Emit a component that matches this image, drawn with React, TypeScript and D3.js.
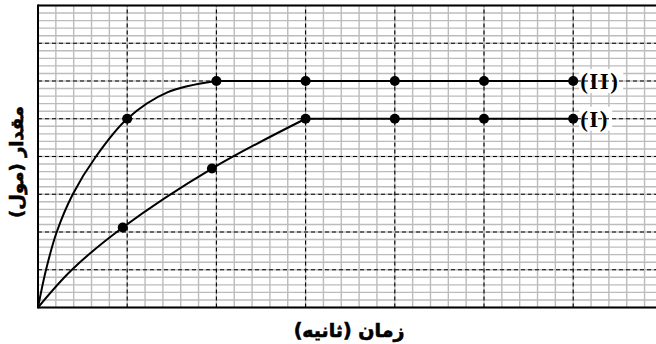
import * as d3 from "d3";

// time axis: 7 major steps, 5 minor per step; amount axis: 8 major steps, 5 minor per step
const xMajor = [0, 1, 2, 3, 4, 5, 6, 7];
const yMajor = [0, 1, 2, 3, 4, 5, 6, 7, 8];
const minorPerMajor = 5;

const riseI: [number, number][] = [
  [0, 0], [0.38, 1], [0.95, 2.12], [1.95, 3.68], [3, 5],
];
const plateauI: [number, number][] = [[3, 5], [4, 5], [5, 5], [6, 5]];
const dotsI: [number, number][] = [[0.95, 2.12], [1.95, 3.68], [3, 5], [4, 5], [5, 5], [6, 5]];

// curve (II)
const riseII: [number, number][] = [
  [0, 0], [0.09, 1], [0.21, 2], [0.39, 3], [0.65, 4], [1, 5], [1.45, 5.7], [2, 6],
];
const plateauII: [number, number][] = [[2, 6], [3, 6], [4, 6], [5, 6], [6, 6]];
const dotsII: [number, number][] = [[1, 5], [2, 6], [3, 6], [4, 6], [5, 6], [6, 6]];

const labels = [
  { text: "(II)", at: [6, 6] as [number, number] },
  { text: "(I)", at: [6, 5] as [number, number] },
];

const xTitle = "زمان (ثانیه)";
const yTitle = "مقدار (مول)";

export default function App() {
  const W = 656;
  const H = 344;
  const left = 38;
  const top = 5.5;
  const bottom = 307.5;
  const xStep = 89.2;

  const x = d3.scaleLinear().domain([0, 7]).range([left, left + 7 * xStep]);
  const y = d3.scaleLinear().domain([0, 8]).range([bottom, top]);

  const minorX = d3.range(0, 7 * minorPerMajor + 1).map((i) => i / minorPerMajor);
  const minorY = d3.range(0, 8 * minorPerMajor + 1).map((i) => i / minorPerMajor);

  const curve = d3
    .line<[number, number]>()
    .x((d) => x(d[0]))
    .y((d) => y(d[1]))
    .curve(d3.curveCatmullRom.alpha(0.5));
  const straight = d3.line<[number, number]>().x((d) => x(d[0])).y((d) => y(d[1]));

  const x0 = x(0), x1 = x(7), y0 = y(0), y1 = y(8);

  return (
    <svg width={W} height={H} style={{ position: "absolute", left: 0, top: 0, background: "#fff" }}>
      {/* minor grid */}
      <g stroke="#bcbcbc" strokeWidth={1.4}>
        {minorX.map((v) => (
          <line key={`mx${v}`} x1={x(v)} x2={x(v)} y1={y0} y2={y1} />
        ))}
        {minorY.map((v) => (
          <line key={`my${v}`} x1={x0} x2={x1} y1={y(v)} y2={y(v)} />
        ))}
      </g>

      {/* white boxes behind the curve labels */}
      {labels.map((l) => (
        <rect key={`bg${l.text}`} x={x(l.at[0]) + 6} y={y(l.at[1]) - 12} width={l.text.length * 11} height={24} fill="#fff" />
      ))}

      {/* major dashed grid */}
      <g stroke="#000" strokeWidth={1.1} strokeDasharray="4,3">
        {xMajor.slice(1).map((v) => (
          <line key={`Mx${v}`} x1={x(v)} x2={x(v)} y1={y0} y2={y1} />
        ))}
        {yMajor.slice(1, -1).map((v) => (
          <line key={`My${v}`} x1={x0} x2={x1} y1={y(v)} y2={y(v)} />
        ))}
      </g>

      {/* frame */}
      <g stroke="#000" strokeWidth={2}>
        <line x1={x0} x2={x0} y1={y0 + 1} y2={y1 - 1} />
        <line x1={x0} x2={x1} y1={y0} y2={y0} />
        <line x1={x0} x2={x1} y1={y1} y2={y1} />
      </g>

      {/* curves */}
      <g fill="none" stroke="#000" strokeWidth={2}>
        <path d={curve(riseI) ?? ""} />
        <path d={straight(plateauI) ?? ""} />
        <path d={curve(riseII) ?? ""} />
        <path d={straight(plateauII) ?? ""} />
      </g>
      <g fill="#000">
        {[...dotsI, ...dotsII].map((d, i) => (
          <circle key={`d${i}`} cx={x(d[0])} cy={y(d[1])} r={5} />
        ))}
      </g>

      {/* curve labels */}
      {labels.map((l) => (
        <text
          key={l.text}
          x={x(l.at[0]) + 7}
          y={y(l.at[1])}
          dy="0.36em"
          fontFamily="'Liberation Serif', 'DejaVu Serif', serif"
          fontWeight="bold"
          fontSize={23}
          letterSpacing={1.5}
        >
          {l.text}
        </text>
      ))}

      {/* axis titles */}
      <text
        x={349}
        y={337}
        textAnchor="middle"
        fontFamily="'DejaVu Sans', sans-serif"
        fontWeight="bold"
        fontSize={19}
        stroke="#000"
        strokeWidth={0.6}
        direction="rtl"
      >
        {xTitle}
      </text>
      <text
        transform="translate(23,162) rotate(-90)"
        textAnchor="middle"
        fontFamily="'DejaVu Sans', sans-serif"
        fontWeight="bold"
        fontSize={18}
        stroke="#000"
        strokeWidth={0.6}
        direction="rtl"
      >
        {yTitle}
      </text>
    </svg>
  );
}
